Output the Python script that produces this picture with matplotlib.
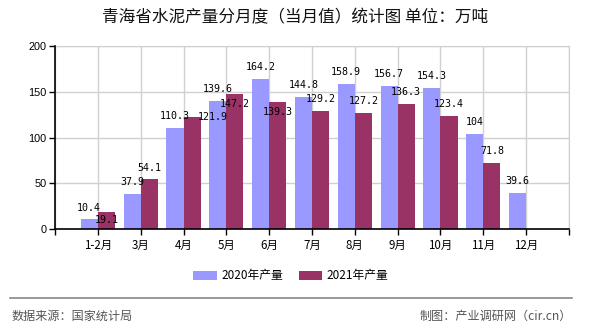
import matplotlib
matplotlib.use("Agg")
import matplotlib.pyplot as plt
import numpy as np
from matplotlib.lines import Line2D

plt.rcParams['font.family'] = ['Noto Sans CJK SC', 'DejaVu Sans']

categories = ['1-2月', '3月', '4月', '5月', '6月', '7月', '8月', '9月', '10月', '11月', '12月']
values_2020 = [10.4, 37.9, 110.3, 139.6, 164.2, 144.8, 158.9, 156.7, 154.3, 104, 39.6]
values_2021 = [19.1, 54.1, 121.9, 147.2, 139.3, 129.2, 127.2, 136.3, 123.4, 71.8, None]
series_names = ['2020年产量', '2021年产量']
yticks = [0, 50, 100, 150, 200]

title = '青海省水泥产量分月度（当月值）统计图 单位：万吨'
source_left = '数据来源：国家统计局'
source_right = '制图：产业调研网（cir.cn）'

c2020 = '#9999FF'
c2021 = '#993366'

# label offsets in points (dx, dy) relative to bar top; default above bar
default_off = (0, 8.6)
off_2021 = {0: (0, -6.2), 2: (15, 0), 3: (0, -7.2), 4: (0, -7.2)}

fig = plt.figure(figsize=(5.9, 3.3), dpi=100)
ax = fig.add_axes([55/590, 1 - 229/330, (569 - 55)/590, (229 - 46)/330])

x = np.arange(len(categories))
w = 0.4
v21 = np.array([np.nan if v is None else v for v in values_2021], dtype=float)
b1 = ax.bar(x - w/2, values_2020, width=w, color=c2020, zorder=3, label=series_names[0])
b2 = ax.bar(x + w/2, v21, width=w, color=c2021, zorder=3, label=series_names[1])

lab_font = dict(family='DejaVu Sans Mono', fontsize=7.2, color='black')
for i, v in enumerate(values_2020):
    ax.annotate(f'{v:g}', (x[i] - w/2, v), xytext=default_off, textcoords='offset points',
                ha='center', va='center', zorder=5, **lab_font)
for i, v in enumerate(values_2021):
    if v is None:
        continue
    off = off_2021.get(i, default_off)
    ax.annotate(f'{v:g}', (x[i] + w/2, v), xytext=off, textcoords='offset points',
                ha='center', va='center', zorder=5, **lab_font)

ax.set_xlim(-1, len(categories))
ax.set_ylim(0, 200)
ax.set_yticks(yticks)
ax.set_yticklabels([str(t) for t in yticks], family='Liberation Sans', fontsize=7.8)

ax.set_xticks(np.arange(-1, len(categories) + 1))
ax.set_xticklabels([''] + categories + [''], fontsize=8.3)
ax.tick_params(axis='both', direction='out', length=4, width=1, color='black', pad=2)
ax.tick_params(axis='x', pad=3)

ax.grid(True, color='#d0d0d0', linewidth=1, zorder=0)
ax.set_axisbelow(True)
for s in ['top', 'right']:
    ax.spines[s].set_color('#d0d0d0')
for s in ['left', 'bottom']:
    ax.spines[s].set_color('black')
    ax.spines[s].set_linewidth(1.2)
    ax.spines[s].set_zorder(4)

fig.text(0.5, 1 - 18/330, title, ha='center', va='center', fontsize=12, color='#111111')

fig.legend(handles=[b1, b2], loc='center', bbox_to_anchor=(0.493, 1 - 276/330), ncol=2,
           frameon=False, fontsize=8.5, handlelength=2.0, handleheight=0.8,
           columnspacing=1.3, handletextpad=0.4)

fig.add_artist(Line2D([10/590, 572/590], [1 - 298/330, 1 - 298/330], transform=fig.transFigure,
                      color='#888888', linewidth=1.2))
fig.text(12/590, 1 - 316/330, source_left, ha='left', va='center', fontsize=8.7, color='#555555')
fig.text(572/590, 1 - 316/330, source_right, ha='right', va='center', fontsize=8.7, color='#555555')

fig.savefig('out.png', dpi=100)
